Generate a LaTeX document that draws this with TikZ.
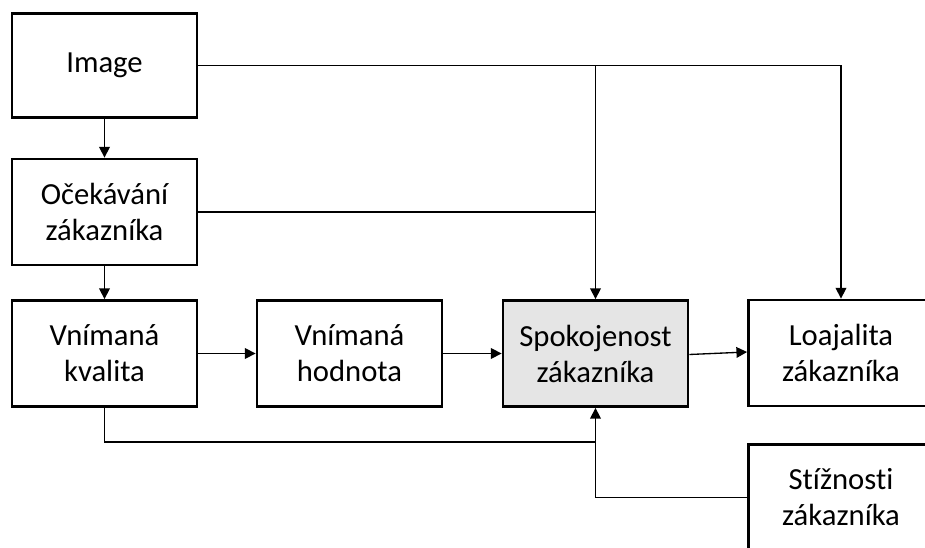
\documentclass[tikz,border=0pt]{standalone}
\usepackage{fontspec}
\setmainfont{Carlito}[Ligatures=NoCommon]
\usetikzlibrary{arrows.meta}
\begin{document}
\begin{tikzpicture}[x=0.75pt,y=-0.75pt,
  box/.style={draw=black, line width=2.1pt, fill=white, minimum width=138.75pt, minimum height=79.5pt,
    align=center, inner sep=0pt, font=\fontsize{23}{27}\selectfont},
  hl/.style={box, fill=black!10},
  conn/.style={draw=black, line width=1pt},
  arr/.style={conn, -{Triangle[length=8pt,width=8pt]}}]
\clip (0,0) rectangle (925,548);
\fill[white] (0,0) rectangle (925,548);
\node[box, minimum height=78pt] (img) at (104.5,65.5) {Image};
\node[box] (oce) at (104.5,212) {Očekávání\\zákazníka};
\node[box] (kval) at (104.5,353.5) {Vnímaná\\kvalita};
\node[box] (hod) at (349.5,353.5) {Vnímaná\\hodnota};
\node[hl] (spok) at (595.5,353.5) {Spokojenost\\zákazníka};
\node[box] (loaj) at (841,353) {Loajalita\\zákazníka};
\node[box] (stiz) at (841,497.5) {Stížnosti\\zákazníka};
\coordinate (kb) at (595.5,442);
\draw[arr] (img) -- (oce);
\draw[arr] (oce) -- (kval);
\draw[arr] (kval) -- (hod);
\draw[arr] (hod) -- (spok);
\draw[arr] ([yshift=-0.75pt]spok.east) -- ([yshift=0.75pt]loaj.west);
\draw[arr] (img.east) -| (loaj.north);
\draw[arr] (img.east -| spok.north) -- (spok.north);
\draw[conn] (oce.east) -- (oce.east -| spok.north);
\draw[conn] (stiz.west) -| (kb);
\draw[arr] (kval.south) |- (kb) -- (spok.south);
\end{tikzpicture}
\end{document}
